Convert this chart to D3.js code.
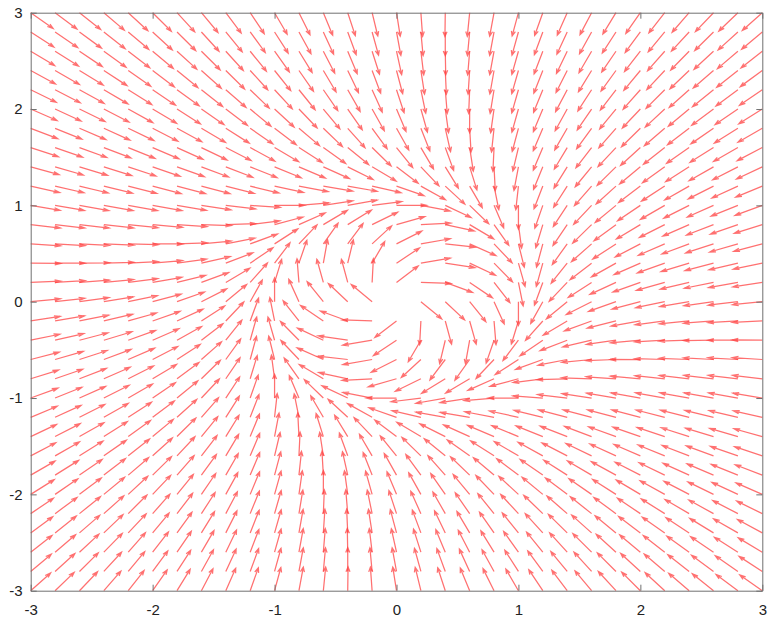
<!DOCTYPE html>
<html>
<head>
<meta charset="utf-8">
<script src="https://cdn.jsdelivr.net/npm/d3@7"></script>
<style>
  body { margin: 0; background: #fff; }
  svg { display: block; }
  .axis text { font-family: "Liberation Sans", Arial, sans-serif; font-size: 15px; fill: #222; }
  .axis path, .axis line { stroke: #707070; }
</style>
</head>
<body>
<div id="chart"></div>
<script>
// quiver of the limit-cycle system, sampled on a 0.2 grid
const xGrid = [-3, -2.8, -2.6, -2.4, -2.2, -2, -1.8, -1.6, -1.4, -1.2, -1, -0.8, -0.6, -0.4, -0.2,
  0, 0.2, 0.4, 0.6, 0.8, 1, 1.2, 1.4, 1.6, 1.8, 2, 2.2, 2.4, 2.6, 2.8, 3];
const yGrid = [-3, -2.8, -2.6, -2.4, -2.2, -2, -1.8, -1.6, -1.4, -1.2, -1, -0.8, -0.6, -0.4, -0.2,
  0, 0.2, 0.4, 0.6, 0.8, 1, 1.2, 1.4, 1.6, 1.8, 2, 2.2, 2.4, 2.6, 2.8, 3];
const xTicks = [-3, -2, -1, 0, 1, 2, 3];
const yTicks = [-3, -2, -1, 0, 1, 2, 3];
// dx/dt = a*y + x*(1 - r^2), dy/dt = -a*x + y*(1 - r^2)
const rotation = [1];
const cycleRadius = [1];

function field(px, py) {
  const g = cycleRadius[0] * cycleRadius[0] - (px * px + py * py);
  return [rotation[0] * py + px * g, -rotation[0] * px + py * g];
}

const W = 770, H = 618;
const x = d3.scaleLinear().domain([-3, 3]).range([30.7, 762.3]);
const y = d3.scaleLinear().domain([-3, 3]).range([590.7, 12.7]);

const svg = d3.select('#chart').append('svg').attr('width', W).attr('height', H);

// arrows are normalised, then scaled like octave's quiver autoscale
const step = 6 / xGrid.length;
const arrowLen = 0.9 * Math.sqrt(2) * step;
const headSize = 0.2;

const arrows = [];
yGrid.forEach(py => {
  xGrid.forEach(px => {
    const [u, v] = field(px, py);
    const m = Math.hypot(u, v);
    if (m < 1e-9) return;
    arrows.push({ px, py, u: u / m * arrowLen, v: v / m * arrowLen });
  });
});

function arrowPath(d) {
  const xe = d.px + d.u, ye = d.py + d.v;
  const xt = d.px + d.u * (1 - headSize), yt = d.py + d.v * (1 - headSize);
  const xa1 = xt + (d.py - ye) * headSize / 3, xa2 = xt - (d.py - ye) * headSize / 3;
  const ya1 = yt - (d.px - xe) * headSize / 3, ya2 = yt + (d.px - xe) * headSize / 3;
  return `M${x(d.px)},${y(d.py)}L${x(xe)},${y(ye)}` +
    `M${x(xa1)},${y(ya1)}L${x(xe)},${y(ye)}L${x(xa2)},${y(ya2)}`;
}

svg.append('g')
  .selectAll('path')
  .data(arrows)
  .enter().append('path')
  .attr('d', arrowPath)
  .attr('fill', 'none')
  .attr('stroke', '#ff4040')
  .attr('stroke-opacity', 0.75)
  .attr('stroke-width', 1.25);

const fmt = d => String(d);

// axes: ticks point inwards, labels only bottom/left
svg.append('g').attr('class', 'axis')
  .attr('transform', `translate(0,${y(-3)})`)
  .call(d3.axisBottom(x).tickValues(xTicks).tickSize(-6).tickSizeOuter(0).tickPadding(14).tickFormat(fmt));
svg.append('g').attr('class', 'axis')
  .attr('transform', `translate(${x(-3)},0)`)
  .call(d3.axisLeft(y).tickValues(yTicks).tickSize(-6).tickSizeOuter(0).tickPadding(8).tickFormat(fmt));
svg.append('g').attr('class', 'axis')
  .attr('transform', `translate(0,${y(3)})`)
  .call(d3.axisTop(x).tickValues(xTicks).tickSize(-6).tickSizeOuter(0).tickFormat(''));
svg.append('g').attr('class', 'axis')
  .attr('transform', `translate(${x(3)},0)`)
  .call(d3.axisRight(y).tickValues(yTicks).tickSize(-6).tickSizeOuter(0).tickFormat(''));
</script>
</body>
</html>
